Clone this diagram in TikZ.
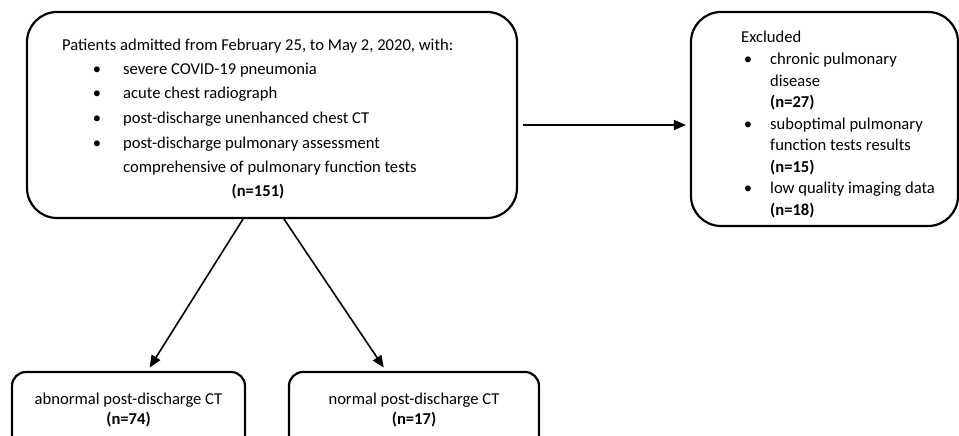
\documentclass[tikz,border=0pt]{standalone}
\usepackage{fontspec}
\setmainfont{Carlito}
\usetikzlibrary{arrows.meta, positioning, calc}

\begin{document}
\begin{tikzpicture}[x=1pt, y=-1pt, font=\fontsize{16.6}{20}\selectfont,
  box/.style={draw, line width=2.2pt, rounded corners=30pt},
  smallbox/.style={draw, line width=2.2pt, rounded corners=14pt},
  txt/.style={anchor=base west, inner sep=0pt},
  mid/.style={anchor=base, inner sep=0pt},
  arr/.style={-{Triangle[length=12pt, width=10pt]}, line width=1.6pt}]
  \useasboundingbox (0,0) rectangle (959,436);
  \clip (0,0) rectangle (959,436);
  % Boxes
  \node[box, minimum width=490pt, minimum height=206pt] (main) at (272,115) {};
  \node[box, minimum width=267pt, minimum height=214pt] (excl) at (824.5,119) {};
  \node[smallbox, minimum width=233pt, minimum height=108pt] (abn) at (128.5,426) {};
  \node[smallbox, minimum width=250pt, minimum height=108pt] (norm) at (414,426) {};
  % Inclusion criteria
  \node[txt] (head) at (62,51) {Patients admitted from February 25, to May 2, 2020, with:};
  \foreach \y/\t in {75/severe COVID-19 pneumonia, 99/acute chest radiograph,
      124/post-discharge unenhanced chest CT, 148/post-discharge pulmonary assessment} {
    \node[mid] (b\y) at (97,\y) {\textbullet};
    \node[txt] (t\y) at (123,\y) {\t};
  }
  \node[txt] (cont) at (123,172) {comprehensive of pulmonary function tests};
  \node[mid] (n151) at (258,196) {\bfseries (n=151)};
  % Exclusions
  \node[txt] (exhead) at (741,43) {Excluded};
  \foreach \y in {64.5,129,193.5}
    \node[mid] (eb\y) at (748,\y) {\textbullet};
  \node[txt] (e1) at (770,64.5) {chronic pulmonary};
  \node[txt] (e2) at (770,86) {disease};
  \node[txt] (e3) at (770,107.5) {\bfseries (n=27)};
  \node[txt] (e4) at (770,129) {suboptimal pulmonary};
  \node[txt] (e5) at (770,150.5) {function tests results};
  \node[txt] (e6) at (770,172) {\bfseries (n=15)};
  \node[txt] (e7) at (770,193.5) {low quality imaging data};
  \node[txt] (e8) at (770,215) {\bfseries (n=18)};
  % Outcome boxes
  \node[mid] (abntxt) at (abn.north |- 0,404) {abnormal post-discharge CT};
  \node[mid] (n74) at (abn.north |- 0,424) {\bfseries (n=74)};
  \node[mid] (normtxt) at (norm.north |- 0,404) {normal post-discharge CT};
  \node[mid] (n17) at (norm.north |- 0,424) {\bfseries (n=17)};
  % Connectors
  \draw[arr, shorten <=5pt, shorten >=4pt] ([yshift=-10pt]main.east) -- ([yshift=-10pt]main.east -| excl.west);
  \draw[arr, shorten >=4pt] ([xshift=-29pt]main.south) -- ([xshift=19pt]abn.north);
  \draw[arr, shorten >=4pt] ([xshift=12pt]main.south) -- ([xshift=-28pt]norm.north);
\end{tikzpicture}
\end{document}
